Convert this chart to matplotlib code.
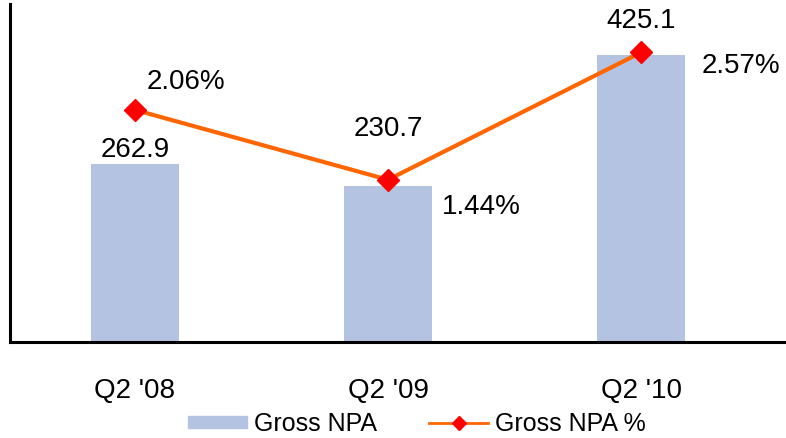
import matplotlib
matplotlib.use("Agg")
import matplotlib.pyplot as plt
from matplotlib.lines import Line2D
from matplotlib.patches import Patch
import numpy as np

plt.rcParams['font.family'] = ['Liberation Sans', 'DejaVu Sans']

# dados
quarters = ["Q2 '08", "Q2 '09", "Q2 '10"]
gross_npa = [262.9, 230.7, 425.1]
gross_npa_pct = [2.06, 1.44, 2.57]

# deslocamentos dos rotulos (pontos)
bar_offsets = [5, 36, 19]
pct_offsets = [(37, 15), (67, -25), (72, -15)]

bar_color = '#B4C3E1'
line_color = '#FF6600'
marker_color = '#FF0000'

x = np.arange(len(quarters))

fig = plt.figure(figsize=(7.86, 4.38), dpi=100)
ax = fig.add_axes([10/786, 96/438, 776/786, 338/438])

ax.bar(x, gross_npa, width=0.35, color=bar_color, zorder=2)
ax.set_xlim(-0.494, 2.573)
ax.set_ylim(0, 500)
ax.set_yticks([])
ax.set_xticks(x)
ax.set_xticklabels(quarters, fontsize=20)
ax.tick_params(axis='x', length=0, pad=26)
for s in ['top', 'right']:
    ax.spines[s].set_visible(False)
for s in ['left', 'bottom']:
    ax.spines[s].set_linewidth(2.2)
    ax.spines[s].set_color('black')

for i, v in enumerate(gross_npa):
    ax.annotate(f'{v:.1f}', xy=(x[i], v), xytext=(0, bar_offsets[i]),
                textcoords='offset points', ha='center', va='baseline', fontsize=20)

ax2 = ax.twinx()
ax2.set_ylim(0, 3)
ax2.set_yticks([])
for s in ax2.spines.values():
    s.set_visible(False)
ax2.plot(x, gross_npa_pct, color=line_color, linewidth=3, marker='D', markersize=11,
         markerfacecolor=marker_color, markeredgecolor=marker_color, zorder=3)

for i, v in enumerate(gross_npa_pct):
    ax2.annotate(f'{v:.2f}%', xy=(x[i], v), xytext=pct_offsets[i],
                 textcoords='offset points', ha='center', va='baseline', fontsize=20)

# legenda com simbolos menores, como no original
handles = [Patch(color=bar_color),
           Line2D([], [], color=line_color, linewidth=2, marker='D', markersize=7,
                  markerfacecolor=marker_color, markeredgecolor=marker_color)]
fig.legend(handles, ['Gross NPA', 'Gross NPA %'], loc='center',
           bbox_to_anchor=(417/786, 14/438), ncol=2, frameon=False, fontsize=18,
           handlelength=2.35, handleheight=0.4, handletextpad=0.28,
           columnspacing=2.1, borderpad=0, borderaxespad=0)

fig.savefig('out.png', dpi=100)
